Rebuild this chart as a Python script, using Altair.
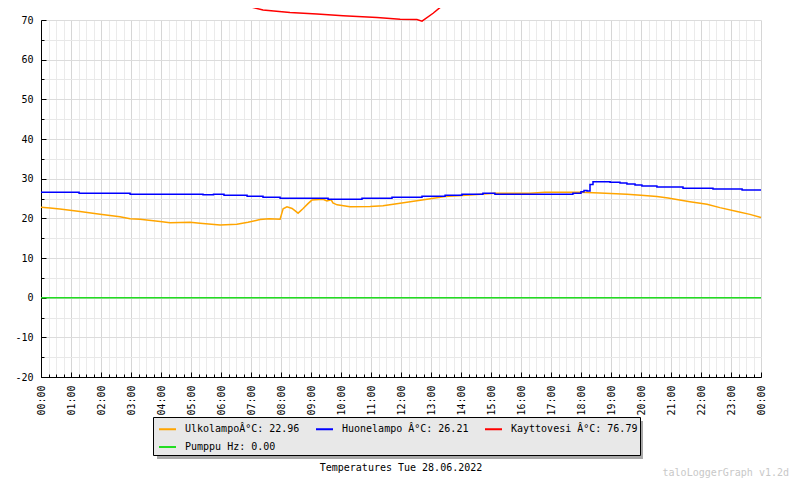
import altair as alt
import pandas as pd

FONT = "DejaVu Sans Mono"

# --- series names (legend labels) and colours ---
names = [
    "Ulkolampo\u00c2\u00b0C: 22.96",
    "Huonelampo \u00c2\u00b0C: 26.21",
    "Kayttovesi \u00c2\u00b0C: 76.79",
    "Pumppu Hz: 0.00",
]
colors = ["#ffa500", "#0000ff", "#ff0000", "#22dd22"]

# --- Ulkolampo (outdoor) ---
ulko_h = [0, 0.3, 0.63, 1.3, 1.97, 2.63, 2.97, 3.3, 3.97, 4.3, 4.97, 5.3, 5.97, 6.53,
          6.9, 7.3, 7.6, 7.97, 8.07, 8.2, 8.37, 8.57, 8.73, 8.9, 9.03, 9.4, 9.53, 9.67,
          9.73, 9.87, 10.3, 10.97, 11.4, 11.97, 12.7, 13.47, 14.3, 15.13, 16.3, 16.8,
          17.97, 18.63, 19.53, 20.0, 20.53, 20.9, 21.63, 22.2, 22.63, 23.2, 23.63, 24.0]
ulko_v = [22.8, 22.6, 22.35, 21.7, 21.0, 20.4, 19.9, 19.75, 19.2, 18.9, 19.0, 18.75, 18.35, 18.5,
          19.0, 19.7, 19.9, 19.8, 22.4, 22.9, 22.5, 21.3, 22.4, 23.7, 24.6, 24.8, 24.4, 24.7,
          23.9, 23.4, 22.95, 23.0, 23.15, 23.8, 24.6, 25.5, 25.9, 26.3, 26.3, 26.55,
          26.6, 26.4, 26.1, 25.8, 25.5, 25.1, 24.2, 23.55, 22.7, 21.7, 21.0, 20.2]

# --- Huonelampo (room) ---
huone_h = [0, 1.27, 2.97, 5.4, 5.75, 6.1, 6.87, 7.4, 7.97, 9.57, 10.7, 11.7, 12.7, 13.47,
           14.03, 14.73, 15.13, 17.73, 18.0, 18.1, 18.2, 18.3, 18.4, 18.97, 19.3, 19.53,
           19.8, 20.03, 20.53, 21.4, 22.4, 23.37, 24.0]
huone_v = [26.57, 26.3, 26.06, 25.95, 26.05, 25.8, 25.55, 25.3, 25.05, 24.8, 25.05, 25.3, 25.55, 25.8,
           26.06, 26.3, 26.06, 26.3, 26.7, 27.0, 26.9, 28.5, 29.25, 29.1, 28.9, 28.65,
           28.4, 28.15, 27.9, 27.6, 27.4, 27.15, 27.15]

# --- Kayttovesi (hot water) ---
kaytto_h = [0, 3, 5.5, 5.87, 6.4, 6.97, 7.4, 8.3, 9.2, 10.07, 11.2, 11.97, 12.53, 12.7,
            13.07, 13.47, 13.73, 14.03, 14.5, 15.5, 18, 21, 24]
kaytto_v = [79.0, 77.5, 75.5, 75.0, 74.6, 73.35, 72.5, 71.9, 71.5, 71.1, 70.6, 70.2, 70.1, 69.7,
            71.7, 74.2, 74.8, 75.0, 77.0, 78.5, 78.0, 77.3, 76.8]

# --- Pumppu (pump) ---
pump_h = [0, 24]
pump_v = [0.0, 0.0]

# --- axis ticks ---
x_ticks = [i * 0.25 for i in range(97)]
y_ticks = list(range(-20, 75, 5))

title_text = "Temperatures Tue 28.06.2022"
watermark = "taloLoggerGraph v1.2d"


def frame(h, v, name):
    return pd.DataFrame({"hour": h, "value": v, "series": name})


x_enc = alt.X(
    "hour:Q",
    scale=alt.Scale(domain=[0, 24], nice=False, zero=False),
    axis=alt.Axis(
        values=x_ticks,
        title=None,
        labelExpr="datum.value % 1 === 0 ? ((datum.value % 24) < 10 ? '0' : '') + (datum.value % 24) + ':00' : ''",
        labelAngle=270,
        labelFont=FONT,
        labelFontSize=10,
        labelColor="black",
        labelPadding=13,
        labelOverlap=False,
        labelFlush=False,
        domainColor="black",
        tickColor="black",
        tickSize={"condition": {"test": "datum.value % 1 === 0", "value": -5}, "value": -3},
        grid=True,
        gridColor={"condition": {"test": "datum.value % 1 === 0", "value": "#d6d6d6"}, "value": "#ebebeb"},
    ),
)

y_enc = alt.Y(
    "value:Q",
    scale=alt.Scale(domain=[-20, 70], nice=False, zero=False),
    axis=alt.Axis(
        values=y_ticks,
        title=None,
        labelExpr="datum.value % 10 === 0 ? '' + datum.value : ''",
        labelFont=FONT,
        labelFontSize=10,
        labelColor="black",
        labelPadding=13,
        labelOverlap=False,
        labelFlush=False,
        domainColor="black",
        tickColor="black",
        tickSize={"condition": {"test": "datum.value % 10 === 0", "value": -5}, "value": -3},
        grid=True,
        gridColor={"condition": {"test": "datum.value % 10 === 0", "value": "#dcdcdc"}, "value": "#e8e8e8"},
    ),
)

legend = alt.Legend(
    orient="none",
    legendX=112,
    legendY=397,
    direction="horizontal",
    columns=3,
    title=None,
    symbolType="stroke",
    symbolStrokeWidth=2,
    symbolSize=289,
    symbolOffset=2.5,
    labelFont=FONT,
    labelFontSize=10,
    labelColor="black",
    labelLimit=0,
    labelOffset=8,
    fillColor="#e8e8e8",
    strokeColor="black",
    padding=2.5,
    columnPadding=12,
    rowPadding=3,
)

color_enc = alt.Color("series:N", scale=alt.Scale(domain=names, range=colors), legend=legend)

shadow = alt.Chart(pd.DataFrame({"k": [0]})).mark_rect(color="#a8a8a8").encode(
    x=alt.value(116), x2=alt.value(602), y=alt.value(401), y2=alt.value(439)
)

series = [
    (ulko_h, ulko_v, names[0], "linear"),
    (huone_h, huone_v, names[1], "step-after"),
    (kaytto_h, kaytto_v, names[2], "linear"),
    (pump_h, pump_v, names[3], "linear"),
]
lines = [
    alt.Chart(frame(h, v, n)).mark_line(strokeWidth=1.5, interpolate=ip, clip=False).encode(
        x=x_enc, y=y_enc, color=color_enc
    )
    for h, v, n, ip in series
]

title_mark = alt.Chart(pd.DataFrame({"t": [title_text]})).mark_text(
    font=FONT, fontSize=10, color="black", align="center", baseline="alphabetic"
).encode(x=alt.value(360), y=alt.value(451), text="t:N")

wm_mark = alt.Chart(pd.DataFrame({"t": [watermark]})).mark_text(
    font=FONT, fontSize=10, color="#c8c8c8", align="right", baseline="alphabetic"
).encode(x=alt.value(748), y=alt.value(456), text="t:N")

chart = alt.layer(shadow, *lines, title_mark, wm_mark).properties(
    width=720,
    height=357,
    autosize=alt.AutoSizeParams(type="none"),
    padding={"left": 33, "top": 12, "right": 31, "bottom": 101},
    background="white",
).configure_view(stroke=None)

chart.save("out.html", embed_options={"renderer": "svg", "actions": False})
